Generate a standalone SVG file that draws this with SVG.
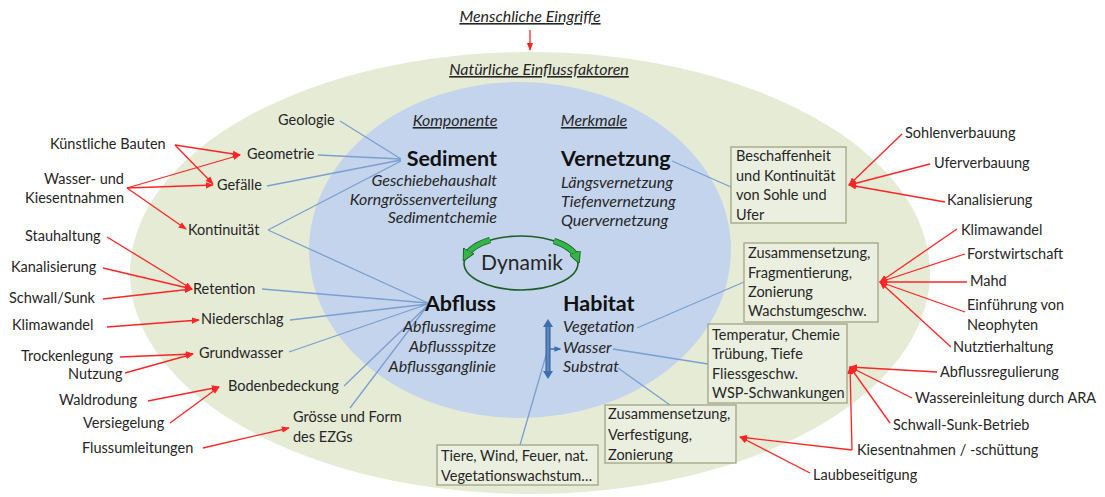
<svg xmlns="http://www.w3.org/2000/svg" width="1105" height="497" viewBox="0 0 1105 497">
<style>
text{font-family:Lato,"Open Sans","Liberation Sans",sans-serif;fill:#262626;font-size:14.5px}
.it{font-style:italic;font-size:16px}
.hd{font-style:italic;font-size:16px;text-decoration:underline}
.b{font-weight:bold;font-size:21.5px;fill:#111}
.e{text-anchor:end}
.m{text-anchor:middle}
.bl{stroke:#7b9fd0;stroke-width:1.3;fill:none}
.rd{stroke:#ff2424;stroke-width:1.3;fill:none;marker-end:url(#ar)}
.box{fill:#ebefdf;stroke:#a3a385;stroke-width:1.3}
</style>
<defs>
<marker id="ar" viewBox="0 0 10 10" refX="9" refY="5" markerWidth="8" markerHeight="8" markerUnits="userSpaceOnUse" orient="auto"><path d="M0,1 L10,5 L0,9z" fill="#ff2424"/></marker>
<marker id="ba" viewBox="0 0 10 10" refX="8" refY="5" markerWidth="7" markerHeight="7" markerUnits="userSpaceOnUse" orient="auto"><path d="M0,1 L10,5 L0,9z" fill="#3f6ead"/></marker>
<marker id="ga" viewBox="0 0 10 10" refX="5" refY="5" markerWidth="12" markerHeight="12" markerUnits="userSpaceOnUse" orient="auto"><path d="M0,0 L10,5 L0,10z" fill="#33b54a" stroke="#1d5e28" stroke-width="0.8"/></marker>
</defs>
<rect width="1105" height="497" fill="#fff"/>
<g id="background">
<ellipse cx="530" cy="273" rx="400" ry="221" fill="#e6ebd6"/>
<ellipse cx="520" cy="250" rx="211" ry="168" fill="#c4d4ec"/>
</g>
<g id="connectors">
<line class="rd" x1="530" y1="30" x2="530" y2="50"/>
<path class="bl" d="M340,121 L401,159 M318,155 L401,159 M267,186 L401,160 M268,230 L401,161"/>
<path class="bl" d="M268,230 L428,303 M262,289 L428,303 M290,320 L428,304 M289,352 L428,304 M344,386 L428,305 M350,408 L428,305"/>
<path class="bl" d="M672,161 L731,187 M637,328 L744,282 M613,349 L708,364 M618,368 L670,405 M520,445 L547,352"/>
<line class="rd" x1="175" y1="145" x2="240" y2="155"/>
<line class="rd" x1="175" y1="145" x2="213" y2="184"/>
<line class="rd" x1="127" y1="188" x2="240" y2="155"/>
<line class="rd" x1="127" y1="188" x2="213" y2="185"/>
<line class="rd" x1="127" y1="188" x2="186" y2="229"/>
<line class="rd" x1="107" y1="237" x2="192" y2="289"/>
<line class="rd" x1="103" y1="268" x2="192" y2="289"/>
<line class="rd" x1="103" y1="299" x2="192" y2="289"/>
<line class="rd" x1="107" y1="327" x2="199" y2="320"/>
<line class="rd" x1="120" y1="357" x2="193" y2="354"/>
<line class="rd" x1="125" y1="373" x2="193" y2="354"/>
<line class="rd" x1="148" y1="401" x2="219" y2="387"/>
<line class="rd" x1="170" y1="423" x2="219" y2="387"/>
<line class="rd" x1="203" y1="448" x2="289" y2="428"/>
<line class="rd" x1="902" y1="134" x2="849" y2="185"/>
<line class="rd" x1="930" y1="164" x2="849" y2="185"/>
<line class="rd" x1="945" y1="202" x2="849" y2="185"/>
<line class="rd" x1="957" y1="229" x2="880" y2="282"/>
<line class="rd" x1="965" y1="254" x2="880" y2="282"/>
<line class="rd" x1="967" y1="282" x2="880" y2="282"/>
<line class="rd" x1="965" y1="312" x2="880" y2="282"/>
<line class="rd" x1="951" y1="347" x2="880" y2="282"/>
<line class="rd" x1="937" y1="372" x2="850" y2="367"/>
<line class="rd" x1="912" y1="398" x2="850" y2="367"/>
<line class="rd" x1="890" y1="423" x2="850" y2="367"/>
<line class="rd" x1="852" y1="450" x2="850" y2="367"/>
<line class="rd" x1="852" y1="450" x2="740" y2="437"/>
<line class="rd" x1="810" y1="473" x2="740" y2="437"/>
<line x1="548" y1="326" x2="548" y2="372" stroke="#2f5a92" stroke-width="5"/>
<line x1="548" y1="326" x2="548" y2="372" stroke="#5a86c2" stroke-width="3"/>
<path d="M543,327 L548,319 L553,327z M543,371 L548,379 L553,371z" fill="#3f6ead"/>
<line x1="550" y1="349" x2="560" y2="349" stroke="#3f6ead" stroke-width="1.5" marker-end="url(#ba)"/>
</g>
<g id="dynamik">
<ellipse cx="521" cy="263" rx="57" ry="27" fill="none" stroke="#1d5e28" stroke-width="1.6"/>
<path d="M490,240 A57 27 0 0 0 466,256" fill="none" stroke="#1d5e28" stroke-width="6.5"/>
<path d="M490,240 A57 27 0 0 0 466,256" fill="none" stroke="#33b54a" stroke-width="4.5" marker-end="url(#ga)"/>
<path d="M554,241 A57 27 0 0 1 577,258" fill="none" stroke="#1d5e28" stroke-width="6.5"/>
<path d="M554,241 A57 27 0 0 1 577,258" fill="none" stroke="#33b54a" stroke-width="4.5" marker-end="url(#ga)"/>
<text x="522" y="270" class="m" style="font-size:21px">Dynamik</text>
</g>
<g id="headers">
<text x="530" y="22" class="hd m">Menschliche Eingriffe</text>
<text x="539" y="75" class="hd m">Natürliche Einflussfaktoren</text>
<text x="455" y="126" class="hd m">Komponente</text>
<text x="594" y="126" class="hd m">Merkmale</text>
</g>
<g id="sediment">
<text x="497" y="166" class="b e">Sediment</text>
<text x="497" y="186" class="it e">Geschiebehaushalt</text>
<text x="497" y="205" class="it e">Korngrössenverteilung</text>
<text x="497" y="223" class="it e">Sedimentchemie</text>
</g>
<g id="vernetzung">
<text x="561" y="166" class="b">Vernetzung</text>
<text x="561" y="188" class="it">Längsvernetzung</text>
<text x="561" y="207" class="it">Tiefenvernetzung</text>
<text x="561" y="226" class="it">Quervernetzung</text>
</g>
<g id="abfluss">
<text x="496" y="311" class="b e">Abfluss</text>
<text x="496" y="332" class="it e">Abflussregime</text>
<text x="496" y="352" class="it e">Abflussspitze</text>
<text x="496" y="372" class="it e">Abflussganglinie</text>
</g>
<g id="habitat">
<text x="563" y="311" class="b">Habitat</text>
<text x="563" y="332" class="it">Vegetation</text>
<text x="563" y="353" class="it">Wasser</text>
<text x="563" y="372" class="it">Substrat</text>
</g>
<g id="natural-factors">
<text x="278" y="125">Geologie</text>
<text x="247" y="159">Geometrie</text>
<text x="217" y="190">Gefälle</text>
<text x="188" y="235">Kontinuität</text>
<text x="193" y="294">Retention</text>
<text x="201" y="324">Niederschlag</text>
<text x="199" y="358">Grundwasser</text>
<text x="228" y="391">Bodenbedeckung</text>
<text x="293" y="422">Grösse und Form</text>
<text x="293" y="442">des EZGs</text>
</g>
<g id="human-left">
<text x="50" y="149">Künstliche Bauten</text>
<text x="124" y="184" class="e">Wasser- und</text>
<text x="124" y="203" class="e">Kiesentnahmen</text>
<text x="25" y="241">Stauhaltung</text>
<text x="11" y="272">Kanalisierung</text>
<text x="9" y="303">Schwall/Sunk</text>
<text x="12" y="330">Klimawandel</text>
<text x="21" y="361">Trockenlegung</text>
<text x="68" y="379">Nutzung</text>
<text x="59" y="405">Waldrodung</text>
<text x="83" y="428">Versiegelung</text>
<text x="82" y="453">Flussumleitungen</text>
</g>
<g id="human-right">
<text x="905" y="138">Sohlenverbauung</text>
<text x="934" y="168">Uferverbauung</text>
<text x="947" y="205">Kanalisierung</text>
<text x="961" y="235">Klimawandel</text>
<text x="967" y="259">Forstwirtschaft</text>
<text x="970" y="286">Mahd</text>
<text x="967" y="310">Einführung von</text>
<text x="967" y="330">Neophyten</text>
<text x="953" y="352">Nutztierhaltung</text>
<text x="940" y="377">Abflussregulierung</text>
<text x="915" y="403">Wassereinleitung durch ARA</text>
<text x="893" y="430">Schwall-Sunk-Betrieb</text>
<text x="857" y="455">Kiesentnahmen / -schüttung</text>
<text x="813" y="480">Laubbeseitigung</text>
</g>
<g id="box-sohle">
<rect class="box" x="731" y="147" width="115" height="76"/>
<text x="736" y="161">Beschaffenheit</text>
<text x="736" y="181">und Kontinuität</text>
<text x="736" y="200">von Sohle und</text>
<text x="736" y="220">Ufer</text>
</g>
<g id="box-vegetation">
<rect class="box" x="744" y="243" width="134" height="79"/>
<text x="748" y="258">Zusammensetzung,</text>
<text x="748" y="278">Fragmentierung,</text>
<text x="748" y="297">Zonierung</text>
<text x="748" y="316">Wachstumgeschw.</text>
</g>
<g id="box-wasser">
<rect class="box" x="708" y="324" width="139" height="79"/>
<text x="712" y="340">Temperatur, Chemie</text>
<text x="712" y="359">Trübung, Tiefe</text>
<text x="712" y="379">Fliessgeschw.</text>
<text x="712" y="398">WSP-Schwankungen</text>
</g>
<g id="box-substrat">
<rect class="box" x="605" y="405" width="131" height="58"/>
<text x="608" y="419">Zusammensetzung,</text>
<text x="608" y="440">Verfestigung,</text>
<text x="608" y="460">Zonierung</text>
</g>
<g id="box-tiere">
<rect class="box" x="437" y="445" width="161" height="40"/>
<text x="441" y="461">Tiere, Wind, Feuer, nat.</text>
<text x="441" y="481">Vegetationswachstum…</text>
</g>
</svg>
